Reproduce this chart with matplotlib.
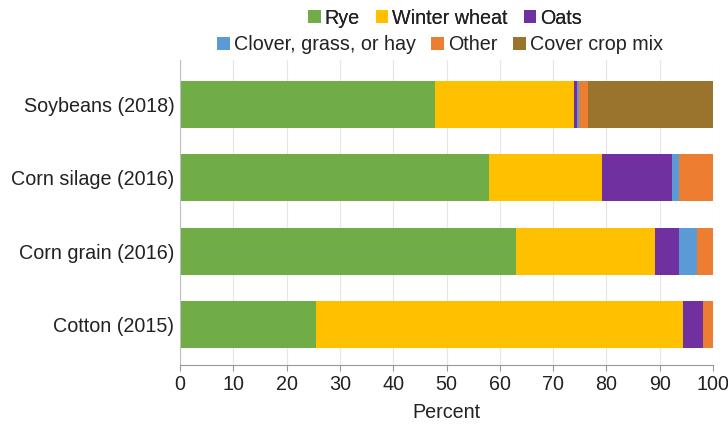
import matplotlib.pyplot as plt
import numpy as np

plt.rcParams['font.family'] = ['Liberation Sans', 'DejaVu Sans']

crops = ['Soybeans (2018)', 'Corn silage (2016)', 'Corn grain (2016)', 'Cotton (2015)']
rye = [47.8, 57.9, 63.0, 25.6]
winter_wheat = [26.1, 21.3, 26.2, 68.8]
oats = [0.5, 13.2, 4.5, 3.8]
clover = [0.4, 1.3, 3.3, 0.0]
other = [1.7, 6.3, 3.0, 1.8]
cover_mix = [23.5, 0.0, 0.0, 0.0]

series = [('Rye', rye, '#70AD47'),
          ('Winter wheat', winter_wheat, '#FFC000'),
          ('Oats', oats, '#7030A0'),
          ('Clover, grass, or hay', clover, '#5B9BD5'),
          ('Other', other, '#ED7D31'),
          ('Cover crop mix', cover_mix, '#9A742C')]

fig = plt.figure(figsize=(7.28, 4.24), dpi=100)
ax = fig.add_axes([180 / 728, 59 / 424, 533 / 728, 305 / 424])

y = np.arange(len(crops))
left = np.zeros(len(crops))
handles = []
for name, vals, color in series:
    b = ax.barh(y, vals, left=left, height=0.64, color=color, label=name)
    handles.append(b)
    left += np.array(vals)

ax.set_xlim(0, 100)
ax.set_ylim(len(crops) - 0.5 + 0.05, -0.5 - 0.1)
ax.set_yticks(y)
ax.set_yticklabels(crops, fontsize=14.2, color='#222222')
ax.set_xticks(np.arange(0, 101, 10))
ax.tick_params(axis='x', labelsize=14.2, labelcolor='#222222', length=4, color='#999999')
ax.tick_params(axis='y', length=0, pad=4)
ax.set_xlabel('Percent', fontsize=14.2, color='#222222', labelpad=6)
ax.grid(axis='x', color='#e6e6e6', linewidth=0.8)
ax.set_axisbelow(True)
for s in ['top', 'right']:
    ax.spines[s].set_visible(False)
ax.spines['left'].set_color('#bfbfbf')
ax.spines['bottom'].set_color('#999999')

leg_kw = dict(loc='center', ncol=3, frameon=False, fontsize=14.2, labelcolor='#222222',
              handlelength=0.65, handleheight=0.65, handletextpad=0.2,
              columnspacing=0.8, borderpad=0)
leg1 = fig.legend(handles[:3], [s[0] for s in series[:3]],
                  bbox_to_anchor=(445 / 728, 1 - 18 / 424), **leg_kw)
leg2 = fig.legend(handles[3:], [s[0] for s in series[3:]],
                  bbox_to_anchor=(440 / 728, 1 - 45 / 424), **leg_kw)
fig.add_artist(leg1)

fig.savefig('out.png', dpi=100)
